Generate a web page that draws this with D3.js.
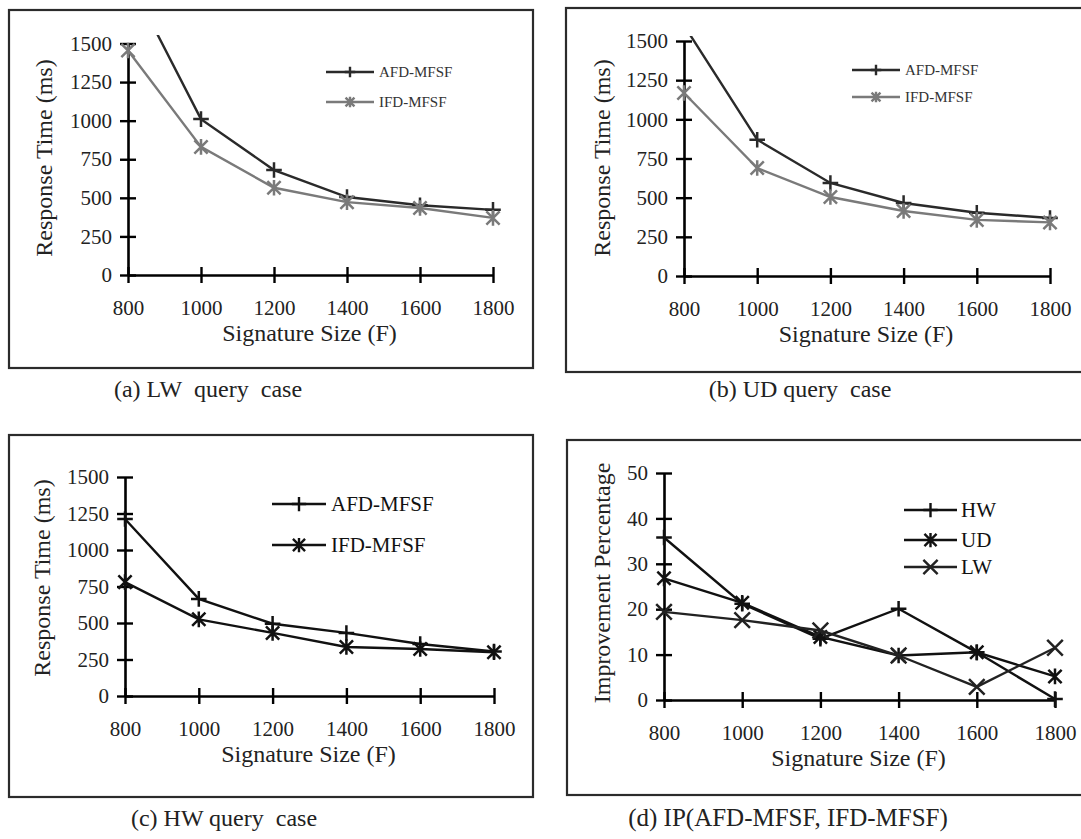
<!DOCTYPE html>
<html>
<head>
<meta charset="utf-8">
<script src="https://cdn.jsdelivr.net/npm/d3@7"></script>
<style>
  html, body { margin: 0; padding: 0; background: #fff; }
  svg { display: block; }
  text { font-family: "Liberation Serif", "Times New Roman", serif; }
</style>
</head>
<body>
<svg id="chart" width="1081" height="839"></svg>
<script>
// ---------- data ----------
const sizes = [800, 1000, 1200, 1400, 1600, 1800];
const rtTicks = [0, 250, 500, 750, 1000, 1250, 1500];
const ipTicks = [0, 10, 20, 30, 40, 50];

const lwAFD = [1930, 1010, 680, 505, 452, 422];
const lwIFD = [1455, 830, 565, 472, 434, 370];
const udAFD = [1600, 870, 594, 466, 404, 370];
const udIFD = [1168, 689, 504, 415, 358, 342];
const hwAFD = [1212, 665, 495, 432, 356, 305];
const hwIFD = [780, 525, 432, 336, 322, 300];
const ipHW = [35.8, 21.2, 13.5, 20.1, 10.5, 0.2];
const ipUD = [26.8, 21.4, 13.9, 9.8, 10.5, 5.2];
const ipLW = [19.4, 17.6, 15.3, 9.8, 2.9, 11.5];

const xTitle = "Signature Size (F)";
const rtTitle = "Response Time (ms)";
const ipTitle = "Improvement Percentage";

// ---------- layout ----------
const panels = [
  {
    id: "a", frame: [9, 10, 533, 368], plot: [128, 493, 275, 43.5], clipTop: 35,
    domain: [0, 1500], ticks: rtTicks, yTitle: rtTitle, yTitlePos: [52, 158],
    series: [
      { name: "AFD-MFSF", values: lwAFD, color: "#2a2a2a", marker: "plus" },
      { name: "IFD-MFSF", values: lwIFD, color: "#7a7a7a", marker: "star" }
    ],
    legend: { x0: 326, x1: 374, tx: 379, rows: [72, 102], size: 15, color: "#333", ms: 0.7 },
    caption: { text: "(a) LW\u00a0 query\u00a0 case", x: 208, y: 397, size: 24 }
  },
  {
    id: "b", frame: [566, 8, 1095, 372], plot: [684, 1050, 276, 41], clipTop: 36,
    domain: [0, 1500], ticks: rtTicks, yTitle: rtTitle, yTitlePos: [610, 158],
    series: [
      { name: "AFD-MFSF", values: udAFD, color: "#2a2a2a", marker: "plus" },
      { name: "IFD-MFSF", values: udIFD, color: "#7a7a7a", marker: "star" }
    ],
    legend: { x0: 852, x1: 900, tx: 905, rows: [70, 97], size: 15, color: "#333", ms: 0.7 },
    caption: { text: "(b) UD query\u00a0 case", x: 800, y: 397, size: 24 }
  },
  {
    id: "c", frame: [9, 435, 533, 797], plot: [125, 494, 696, 477], clipTop: 440,
    domain: [0, 1500], ticks: rtTicks, yTitle: rtTitle, yTitlePos: [50, 578],
    series: [
      { name: "AFD-MFSF", values: hwAFD, color: "#111", marker: "plus" },
      { name: "IFD-MFSF", values: hwIFD, color: "#111", marker: "star" }
    ],
    legend: { x0: 272, x1: 326, tx: 331, rows: [504, 545], size: 21, color: "#111", ms: 0.95 },
    caption: { text: "(c) HW query\u00a0 case", x: 224, y: 826, size: 24 }
  },
  {
    id: "d", frame: [567, 440, 1095, 795], plot: [664, 1055, 700, 473], clipTop: 445,
    domain: [0, 50], ticks: ipTicks, yTitle: ipTitle, yTitlePos: [610, 583],
    series: [
      { name: "HW", values: ipHW, color: "#111", marker: "plus" },
      { name: "UD", values: ipUD, color: "#111", marker: "star" },
      { name: "LW", values: ipLW, color: "#222", marker: "x" }
    ],
    legend: { x0: 904, x1: 957, tx: 961, rows: [510, 540, 567], size: 21, color: "#111", ms: 0.95 },
    caption: { text: "(d) IP(AFD-MFSF, IFD-MFSF)", x: 788, y: 826, size: 25 }
  }
];

// ---------- helpers ----------
function markerPath(type, s) {
  if (type === "plus") return `M${-s},0H${s}M0,${-s}V${s}`;
  if (type === "x") return `M${-s},${-s}L${s},${s}M${-s},${s}L${s},${-s}`;
  const a = s * 0.85;
  return `M${-a},${-a}L${a},${a}M${-a},${a}L${a},${-a}M0,${-s}V${s}`;
}

const svg = d3.select("#chart");
svg.append("rect").attr("width", 1081).attr("height", 839).attr("fill", "#fff");

panels.forEach(p => {
  const g = svg.append("g").attr("class", "panel-" + p.id);
  const [fx0, fy0, fx1, fy1] = p.frame;
  const [xl, xr, yb, yt] = p.plot;

  g.append("rect")
    .attr("x", fx0).attr("y", fy0)
    .attr("width", fx1 - fx0).attr("height", fy1 - fy0)
    .attr("fill", "none").attr("stroke", "#2b2b2b").attr("stroke-width", 2.2);

  const x = d3.scaleLinear().domain([sizes[0], sizes[sizes.length - 1]]).range([xl, xr]);
  const y = d3.scaleLinear().domain(p.domain).range([yb, yt]);

  const clipId = "clip-" + p.id;
  g.append("clipPath").attr("id", clipId)
    .append("rect")
    .attr("x", fx0 + 2).attr("y", p.clipTop)
    .attr("width", fx1 - fx0 - 4).attr("height", fy1 - p.clipTop - 2);

  const yAxis = d3.axisLeft(y).tickValues(p.ticks).tickSizeInner(8).tickSizeOuter(0).tickPadding(8)
    .tickFormat(d3.format("d"));
  const yg = g.append("g").attr("transform", `translate(${xl},0)`).call(yAxis);
  yg.selectAll(".tick line").attr("x1", 8).attr("stroke", "#000").attr("stroke-width", 2.4);
  yg.select(".domain").attr("stroke", "#000").attr("stroke-width", 2.6);
  yg.selectAll(".tick text").attr("font-size", 21).attr("fill", "#222")
    .style("font-family", "'Liberation Serif', 'Times New Roman', serif");

  const xAxis = d3.axisBottom(x).tickValues(sizes).tickSizeInner(8).tickSizeOuter(0).tickPadding(17)
    .tickFormat(d3.format("d"));
  const xg = g.append("g").attr("transform", `translate(0,${yb})`).call(xAxis);
  xg.selectAll(".tick line").attr("y1", -8).attr("stroke", "#000").attr("stroke-width", 2.4);
  xg.select(".domain").attr("stroke", "#000").attr("stroke-width", 2.6);
  xg.selectAll(".tick text").attr("font-size", 21).attr("fill", "#222")
    .style("font-family", "'Liberation Serif', 'Times New Roman', serif");

  g.append("text")
    .attr("x", (xl + xr) / 2 - 1).attr("y", yb + 66)
    .attr("text-anchor", "middle").attr("font-size", 24).attr("fill", "#222")
    .text(xTitle);
  g.append("text")
    .attr("transform", `translate(${p.yTitlePos[0]},${p.yTitlePos[1]}) rotate(-90)`)
    .attr("text-anchor", "middle").attr("font-size", 24).attr("fill", "#222")
    .text(p.yTitle);

  const plotG = g.append("g").attr("clip-path", `url(#${clipId})`);
  const line = d3.line().x(d => x(d[0])).y(d => y(d[1]));
  p.series.forEach(s => {
    const pts = sizes.map((sz, i) => [sz, s.values[i]]);
    plotG.append("path").datum(pts)
      .attr("d", line)
      .attr("fill", "none").attr("stroke", s.color).attr("stroke-width", 2.4)
      .attr("stroke-linejoin", "miter");
    plotG.selectAll(null).data(pts).enter().append("path")
      .attr("transform", d => `translate(${x(d[0])},${y(d[1])})`)
      .attr("d", markerPath(s.marker, 7.8))
      .attr("fill", "none").attr("stroke", s.color).attr("stroke-width", 2.5);
  });

  const L = p.legend;
  p.series.forEach((s, i) => {
    const ry = L.rows[i];
    g.append("line").attr("x1", L.x0).attr("x2", L.x1).attr("y1", ry).attr("y2", ry)
      .attr("stroke", s.color).attr("stroke-width", 2.4);
    g.append("path")
      .attr("transform", `translate(${(L.x0 + L.x1) / 2},${ry})`)
      .attr("d", markerPath(s.marker, 7.5 * L.ms))
      .attr("fill", "none").attr("stroke", s.color).attr("stroke-width", 2.4);
    g.append("text").attr("x", L.tx).attr("y", ry).attr("dy", "0.35em")
      .attr("font-size", L.size).attr("fill", L.color)
      .text(s.name);
  });

  svg.append("text")
    .attr("x", p.caption.x).attr("y", p.caption.y)
    .attr("text-anchor", "middle").attr("font-size", p.caption.size).attr("fill", "#222")
    .text(p.caption.text);
});
</script>
</body>
</html>
